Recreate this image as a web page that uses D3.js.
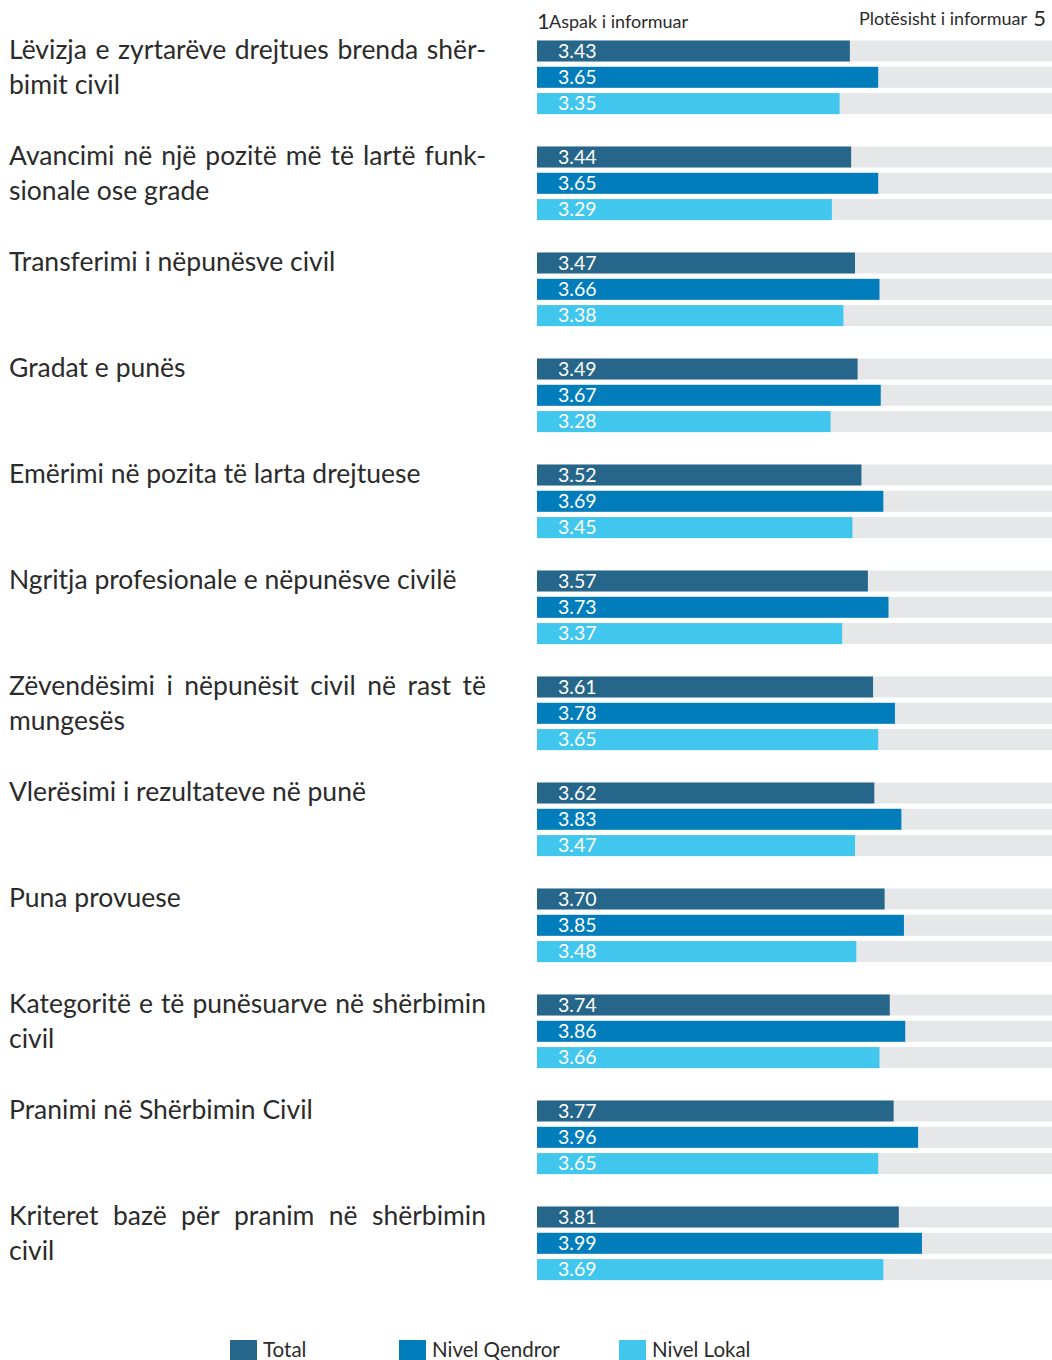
<!DOCTYPE html>
<html>
<head>
<meta charset="utf-8">
<script src="https://cdn.jsdelivr.net/npm/d3@7"></script>
<style>
  html, body { margin: 0; padding: 0; background: #fff; }
  svg { display: block; }
</style>
</head>
<body>
<svg id="chart" width="1052" height="1360"></svg>
<script>
// Topics (each entry holds the wrapped lines of the label)
const categories = [
  ["Lëvizja e zyrtarëve drejtues brenda shër-", "bimit civil"],
  ["Avancimi në një pozitë më të lartë funk-", "sionale ose grade"],
  ["Transferimi i nëpunësve civil"],
  ["Gradat e punës"],
  ["Emërimi në pozita të larta drejtuese"],
  ["Ngritja profesionale e nëpunësve civilë"],
  ["Zëvendësimi i nëpunësit civil në rast të", "mungesës"],
  ["Vlerësimi i rezultateve në punë"],
  ["Puna provuese"],
  ["Kategoritë e të punësuarve në shërbimin", "civil"],
  ["Pranimi në Shërbimin Civil"],
  ["Kriteret bazë për pranim në shërbimin", "civil"]
];

const seriesNames = ["Total", "Nivel Qendror", "Nivel Lokal"];
const totalValues    = [3.43, 3.44, 3.47, 3.49, 3.52, 3.57, 3.61, 3.62, 3.70, 3.74, 3.77, 3.81];
const qendrorValues  = [3.65, 3.65, 3.66, 3.67, 3.69, 3.73, 3.78, 3.83, 3.85, 3.86, 3.96, 3.99];
const lokalValues    = [3.35, 3.29, 3.38, 3.28, 3.45, 3.37, 3.65, 3.47, 3.48, 3.66, 3.65, 3.69];

const scaleMin = 1, scaleMax = 5;
const scaleMinLabel = "Aspak i informuar";
const scaleMaxLabel = "Plotësisht i informuar";

const colors = ["#26668a", "#027dbb", "#41c6ee"];
const trackColor = "#e6e7e8";
const textColor = "#2b2b2b";
const fontFamily = "Lato, 'Open Sans', sans-serif";

const series = [totalValues, qendrorValues, lokalValues];

const svg = d3.select("#chart");

// Layout
const barLeft = 537, barRight = 1052;
const barH = 21, barStep = 26.3;
const x = d3.scaleLinear().domain([scaleMin, scaleMax]).range([barLeft, barRight]);
const groupY = d3.scalePoint()
  .domain(d3.range(categories.length))
  .range([40.5, 1206.5]);

// Scale header
const head = svg.append("g").attr("fill", textColor).attr("font-family", fontFamily);
head.append("text").attr("x", 537).attr("y", 29).attr("font-size", 22).text(String(scaleMin));
head.append("text").attr("x", 549).attr("y", 28).attr("font-size", 18).text(scaleMinLabel);
head.append("text").attr("x", 1046).attr("y", 26).attr("font-size", 22)
  .attr("text-anchor", "end").text(String(scaleMax));
head.append("text").attr("x", 1027).attr("y", 25).attr("font-size", 18)
  .attr("text-anchor", "end").text(scaleMaxLabel);

// Groups
const groups = svg.append("g").selectAll("g.group")
  .data(categories.map((lines, i) => ({ lines, i })))
  .join("g")
  .attr("class", "group")
  .attr("transform", d => `translate(0,${groupY(d.i)})`);

// Justified topic labels
const labelLeft = 9, labelRight = 486, labelSize = 26.5, lineGap = 35;
groups.each(function(d) {
  const g = d3.select(this);
  d.lines.forEach((line, li) => {
    const yBase = 18 + li * lineGap;
    const justify = li < d.lines.length - 1;
    if (!justify) {
      g.append("text").attr("x", labelLeft).attr("y", yBase)
        .attr("font-family", fontFamily).attr("font-size", labelSize)
        .attr("fill", textColor).text(line);
      return;
    }
    const words = line.split(" ");
    const nodes = words.map(w => g.append("text")
      .attr("y", yBase).attr("font-family", fontFamily)
      .attr("font-size", labelSize).attr("fill", textColor).text(w));
    const widths = nodes.map(n => n.node().getComputedTextLength());
    const total = d3.sum(widths);
    const gap = (labelRight - labelLeft - total) / (words.length - 1);
    let cx = labelLeft;
    nodes.forEach((n, k) => { n.attr("x", cx); cx += widths[k] + gap; });
  });
});

// Tracks, bars, value labels
groups.each(function(d) {
  const g = d3.select(this);
  series.forEach((vals, s) => {
    const y0 = s * barStep;
    g.append("rect").attr("x", x(scaleMin)).attr("y", y0)
      .attr("width", x(scaleMax) - x(scaleMin)).attr("height", barH)
      .attr("fill", trackColor);
    g.append("rect").attr("x", x(scaleMin)).attr("y", y0)
      .attr("width", x(vals[d.i]) - x(scaleMin)).attr("height", barH)
      .attr("fill", colors[s]);
    g.append("text").attr("x", 558).attr("y", y0 + 17)
      .attr("font-family", fontFamily).attr("font-size", 19.5)
      .attr("fill", "#fff").text(d3.format(".2f")(vals[d.i]));
  });
});

// Legend
const legendX = [230, 399, 619];
const legend = svg.append("g").selectAll("g")
  .data(seriesNames)
  .join("g")
  .attr("transform", (d, i) => `translate(${legendX[i]},1340)`);
legend.append("rect").attr("width", 27).attr("height", 20).attr("fill", (d, i) => colors[i]);
legend.append("text").attr("x", 33).attr("y", 17)
  .attr("font-family", fontFamily).attr("font-size", 20.5)
  .attr("fill", textColor).text(d => d);
</script>
</body>
</html>
